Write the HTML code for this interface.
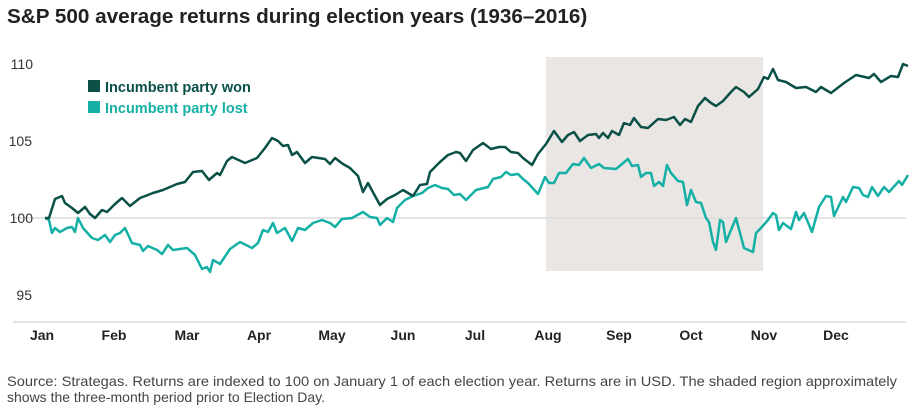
<!DOCTYPE html>
<html><head><meta charset="utf-8"><style>
body{margin:0;background:#fff;width:916px;height:410px;overflow:hidden;font-family:"Liberation Sans",sans-serif}
</style></head><body>
<svg width="916" height="410" xmlns="http://www.w3.org/2000/svg" font-family="Liberation Sans, sans-serif">
<text x="7" y="23" font-size="20.7" font-weight="bold" fill="#222">S&amp;P 500 average returns during election years (1936–2016)</text>
<rect x="546" y="57" width="217" height="214" fill="#e9e6e3"/>
<line x1="13" y1="218" x2="906" y2="218" stroke="#dcdcdc" stroke-width="1.5"/>
<line x1="13" y1="322" x2="906" y2="322" stroke="#dcdcdc" stroke-width="1.5"/>
<g font-size="14" fill="#333" text-anchor="end">
<text x="33" y="69">110</text><text x="32" y="146">105</text><text x="33" y="223">100</text><text x="32" y="300">95</text>
</g>
<g font-size="14" fill="#222" font-weight="bold" text-anchor="middle">
<text x="42" y="340">Jan</text><text x="114" y="340">Feb</text><text x="187" y="340">Mar</text><text x="259" y="340">Apr</text><text x="332" y="340">May</text><text x="403" y="340">Jun</text><text x="475" y="340">Jul</text><text x="548" y="340">Aug</text><text x="619" y="340">Sep</text><text x="691" y="340">Oct</text><text x="764" y="340">Nov</text><text x="836" y="340">Dec</text>
</g>
<rect x="88" y="80" width="12" height="12" fill="#0a5047"/>
<text x="105" y="92" font-size="14.5" font-weight="bold" fill="#0a5047">Incumbent party won</text>
<rect x="88" y="101" width="12" height="12" fill="#14b0a6"/>
<text x="105" y="113" font-size="14.5" font-weight="bold" fill="#14b0a6">Incumbent party lost</text>
<polyline fill="none" stroke="#14b0a6" stroke-width="2.5" stroke-linejoin="round" points="45,218 49,220 52,233 55,228 60,232 67,228 72,227 75,232 78,218 83,228 92,238 98,240 105,235 110,242 115,235 120,233 125,228 132,243 140,245 143,251 148,246 157,250 162,254 168,245 173,250 187,248 195,255 202,269 207,267 210,272 213,260 220,264 230,249 240,242 252,248 258,243 263,230 268,232 273,223 277,233 285,228 292,241 298,228 305,230 313,223 322,220 330,223 335,227 342,219 352,218 363,212 370,217 377,218 380,225 387,218 393,222 397,208 405,200 413,196 422,193 428,188 435,185 442,188 448,189 454,195 460,194 466,200 476,190 488,187 493,179 501,177 506,172 511,175 518,174 523,179 528,183 538,194 545,177 549,183 554,183 559,173 566,173 573,164 579,165 584,158 591,168 599,164 604,168 616,169 628,159 632,166 638,165 641,177 646,173 651,173 654,186 659,182 663,186 667,165 671,173 678,181 683,182 687,205 691,190 696,202 701,203 706,218 709,222 713,242 716,250 720,220 723,222 726,242 736,218 744,248 753,252 756,233 761,228 768,220 773,213 776,215 779,230 783,223 791,229 796,212 799,220 804,213 812,232 819,207 826,196 831,197 834,216 843,197 846,202 853,187 859,188 863,195 868,197 872,187 878,196 884,187 889,192 899,181 902,185 908,175"/>
<polyline fill="none" stroke="#0a5047" stroke-width="2.5" stroke-linejoin="round" points="45,218 49,218 55,199 62,196 65,203 72,208 78,213 85,207 90,214 95,218 102,210 107,212 115,204 122,198 130,206 140,198 153,193 163,190 177,184 185,182 193,172 202,171 209,180 217,173 220,175 227,161 232,157 245,163 257,158 265,148 272,138 278,141 283,146 288,145 292,155 297,152 305,163 312,157 325,159 330,164 335,158 343,164 350,168 358,176 363,192 368,183 375,196 380,205 387,199 395,195 403,190 413,196 420,185 427,184 430,172 440,162 448,155 456,152 460,153 466,161 473,150 483,143 491,149 499,147 505,147 511,152 518,153 523,158 532,165 538,154 546,144 554,131 562,142 568,135 574,132 580,141 588,135 596,134 599,138 603,133 608,138 612,131 619,135 624,123 630,125 634,118 641,127 648,128 658,119 666,120 674,117 680,125 685,119 691,122 698,106 705,98 711,103 716,106 723,101 731,92 736,87 744,92 749,97 758,89 764,77 768,79 773,69 778,80 786,82 796,88 806,87 816,92 821,87 831,93 844,83 856,75 869,78 874,74 881,82 891,76 898,77 903,64 908,66"/>
<g font-size="14" fill="#444">
<text x="7" y="386" textLength="890" lengthAdjust="spacingAndGlyphs">Source: Strategas. Returns are indexed to 100 on January 1 of each election year. Returns are in USD. The shaded region approximately</text>
<text x="7" y="402">shows the three-month period prior to Election Day.</text>
</g>
</svg>
</body></html>
